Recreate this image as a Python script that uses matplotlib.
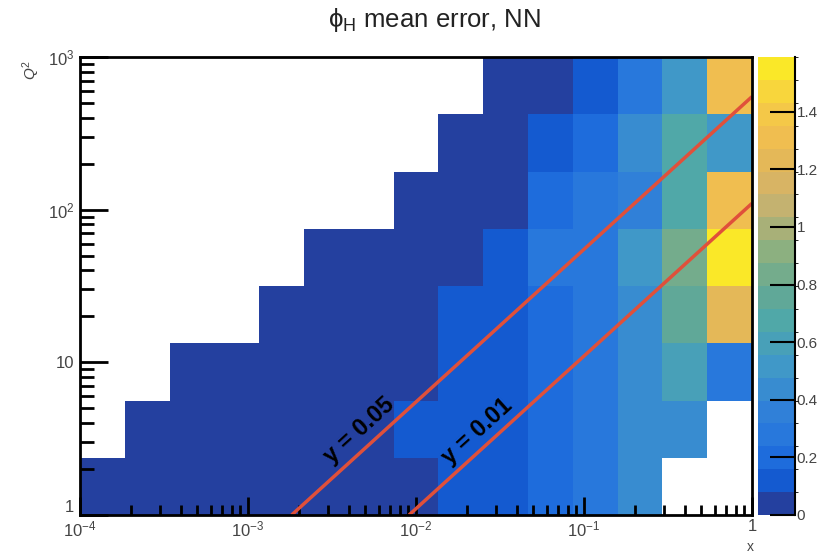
import numpy as np
import matplotlib
matplotlib.use("Agg")
import matplotlib.pyplot as plt
from matplotlib.colors import ListedColormap, BoundaryNorm
from matplotlib.ticker import FixedLocator, NullFormatter, FuncFormatter

plt.rcParams['font.family'] = ['Liberation Sans', 'DejaVu Sans']
plt.rcParams['mathtext.fontset'] = 'custom'
plt.rcParams['mathtext.rm'] = 'Liberation Sans'
plt.rcParams['mathtext.it'] = 'Liberation Sans:italic'
plt.rcParams['mathtext.bf'] = 'Liberation Sans:bold'

# binning: 15 bins in x (1e-4 .. 1), 8 bins in Q2 (1 .. 1e3), log spaced
x_edges = np.logspace(-4, 0, 16)
q2_edges = np.logspace(0, 3, 9)

# mean error of phi_H per bin, one list per Q2 row (bottom -> top), None = empty
N = None
row_q2_0 = [0.04, 0.04, 0.04, 0.04, 0.04, 0.04, 0.04, 0.04, 0.12, 0.12, 0.20, 0.28, 0.40, N, N]
row_q2_1 = [N, 0.04, 0.04, 0.04, 0.04, 0.04, 0.04, 0.15, 0.12, 0.12, 0.20, 0.28, 0.40, 0.44, N]
row_q2_2 = [N, N, 0.04, 0.04, 0.04, 0.04, 0.04, 0.04, 0.12, 0.12, 0.20, 0.28, 0.44, 0.56, 0.28]
row_q2_3 = [N, N, N, N, 0.04, 0.04, 0.04, 0.04, 0.12, 0.12, 0.20, 0.28, 0.44, 0.72, 1.24]
row_q2_4 = [N, N, N, N, N, 0.04, 0.04, 0.04, 0.04, 0.12, 0.28, 0.26, 0.50, 0.84, 1.55]
row_q2_5 = [N, N, N, N, N, N, N, 0.04, 0.04, 0.04, 0.18, 0.26, 0.32, 0.66, 1.32]
row_q2_6 = [N, N, N, N, N, N, N, N, 0.04, 0.04, 0.12, 0.20, 0.46, 0.64, 0.50]
row_q2_7 = [N, N, N, N, N, N, N, N, N, 0.04, 0.04, 0.12, 0.28, 0.50, 1.32]
rows = [row_q2_0, row_q2_1, row_q2_2, row_q2_3, row_q2_4, row_q2_5, row_q2_6, row_q2_7]

z_max = 1.59

# constant-y lines, s = 4*10*275 GeV^2
y_values = [0.05, 0.01]
s_cm = 11000.0
line_labels = ["y = 0.05", "y = 0.01"]
label_pos = [(4.6e-3, 3.6), (2.3e-2, 3.5)]

# 20 palette bands (bottom -> top), as they appear in the colour bar
band_cols = ['#24409f', '#145ad0', '#1e6cdc', '#2878dc', '#3080d8', '#388cd0',
             '#4098c8', '#48a0b8', '#50a8a8', '#60a898', '#74ac8c', '#8cb080',
             '#a8b078', '#c4b270', '#d8b464', '#e4b858', '#f0be50', '#f4c848',
             '#f8d63c', '#fae828']
cmap = ListedColormap(band_cols)
cmap.set_bad('white')
levels = np.linspace(0, z_max, len(band_cols) + 1)
norm = BoundaryNorm(levels, len(band_cols))

z = np.array([[np.nan if v is None else v for v in r] for r in rows])
z = np.ma.masked_invalid(z)

fig = plt.figure(figsize=(8.22, 5.53), dpi=100)
W, H = 822.0, 553.0
ax = fig.add_axes([80 / W, 1 - 515 / H, 672 / W, 458 / H])
mesh = ax.pcolormesh(x_edges, q2_edges, z, cmap=cmap, norm=norm)
ax.set_xscale('log')
ax.set_yscale('log')
ax.set_xlim(1e-4, 1)
ax.set_ylim(1, 1e3)

for yv in y_values:
    xs = np.array([1.0 / (yv * s_cm), 1.0])
    ax.plot(xs, yv * s_cm * xs, color='#e0503a', lw=2.5, solid_capstyle='butt')

# angle of the lines on screen
p1 = ax.transData.transform((1e-3, 1.0))
p2 = ax.transData.transform((1e-2, 10.0))
ang = np.degrees(np.arctan2(p2[1] - p1[1], p2[0] - p1[0]))
for txt, (lx, ly) in zip(line_labels, label_pos):
    ax.text(lx, ly, txt, rotation=ang, rotation_mode='anchor', ha='center', va='center',
            fontsize=17, fontweight='bold', color='black')

# axes styling in ROOT fashion
for sp in ax.spines.values():
    sp.set_linewidth(2)
ax.tick_params(which='both', direction='in', top=False, right=False, colors='black')
ax.tick_params(which='major', axis='y', length=20, width=2)
ax.tick_params(which='minor', axis='y', length=10, width=2)
ax.tick_params(which='major', axis='x', length=13, width=2)
ax.tick_params(which='minor', axis='x', length=7, width=2)
ax.tick_params(axis='both', labelsize=12, labelcolor='#444444')
ax.tick_params(axis='x', pad=3)
ax.tick_params(axis='y', pad=4)

def xfmt(v, pos):
    e = int(round(np.log10(v)))
    return "1" if e == 0 else r"$10^{%d}$" % e

def yfmt(v, pos):
    e = int(round(np.log10(v)))
    if e == 0:
        return "1"
    if e == 1:
        return "10"
    return r"$10^{%d}$" % e

ax.xaxis.set_major_locator(FixedLocator([1e-4, 1e-3, 1e-2, 1e-1, 1]))
ax.yaxis.set_major_locator(FixedLocator([1, 10, 100, 1000]))
ax.xaxis.set_major_formatter(FuncFormatter(xfmt))
ax.yaxis.set_major_formatter(FuncFormatter(yfmt))
ax.xaxis.set_minor_formatter(NullFormatter())
ax.yaxis.set_minor_formatter(NullFormatter())
# ROOT puts the "1" of the y axis a little above the corner
fig.canvas.draw()
ax.get_yticklabels()[0].set_verticalalignment('bottom')

# colour bar
cax = fig.add_axes([758 / W, 1 - 515 / H, 37 / W, 458 / H])
cb = fig.colorbar(mesh, cax=cax, ticks=np.arange(0, 1.41, 0.2))
cb.outline.set_visible(False)
cax.plot([1, 1], [0, 1], transform=cax.transAxes, color='black', lw=1.5, clip_on=False)
cax.tick_params(direction='in', length=18, width=1.5, labelsize=11,
                labelcolor='#444444', pad=1)
cb.ax.yaxis.set_major_formatter(FuncFormatter(lambda v, p: "%g" % round(v, 1)))

fig.text(0.528, 1 - 20 / H, "ϕ$_{\\mathrm{H}}$ mean error, NN", ha='center', va='center',
         fontsize=18.5, color='#222222')
fig.text(31 / W, 1 - 70 / H, r"$Q^{2}$", rotation=90, ha='center', va='center',
         fontsize=11, color='#444444')
fig.text(750 / W, 1 - 547 / H, "x", ha='center', va='center', fontsize=10, color='#444444')

fig.savefig("out.png", dpi=100)
